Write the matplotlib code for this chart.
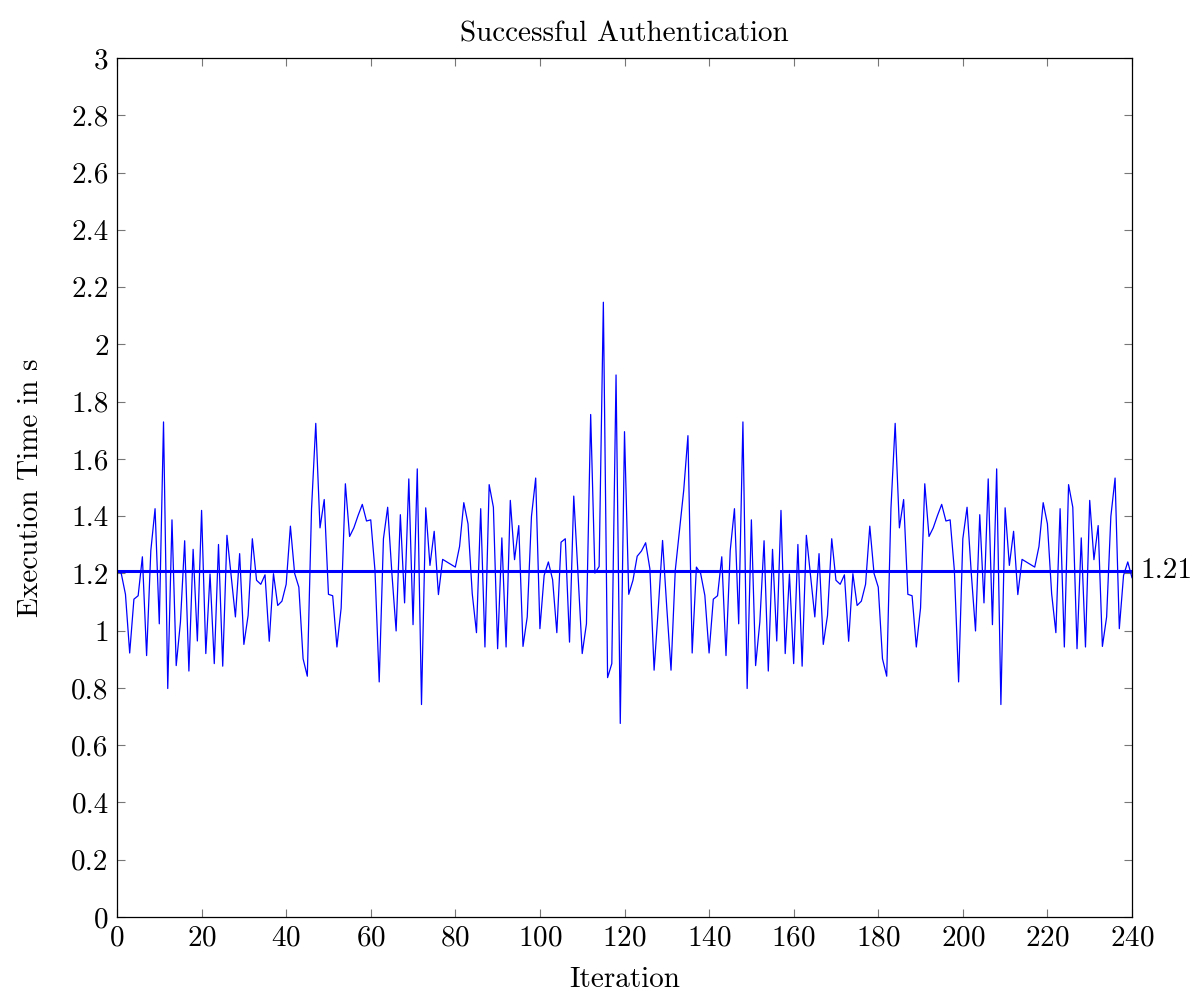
import matplotlib
matplotlib.use("Agg")
import matplotlib.pyplot as plt
import numpy as np

plt.rcParams["font.family"] = "serif"
plt.rcParams["font.serif"] = ["cmr10", "DejaVu Serif"]
plt.rcParams["mathtext.fontset"] = "cm"
plt.rcParams["axes.formatter.use_mathtext"] = True

# execution times, one per iteration (0..240)
first_run = [
    1.21, 1.20, 1.127, 0.922, 1.11, 1.122, 1.258, 0.913, 1.28, 1.426,
    1.024, 1.729, 0.798, 1.387, 0.878, 1.03, 1.314, 0.859, 1.284, 0.964,
    1.42, 0.92, 1.198, 0.885, 1.301, 0.876, 1.333, 1.19, 1.048, 1.269,
    0.952, 1.053, 1.321, 1.176, 1.162, 1.195, 0.963, 1.199, 1.088, 1.103,
    1.162, 1.365, 1.20, 1.152, 0.902, 0.841, 1.426, 1.724, 1.359, 1.458,
    1.127, 1.122, 0.943, 1.079, 1.513, 1.329, 1.359, 1.402, 1.441, 1.383,
    1.387, 1.21, 0.821, 1.321, 1.431, 1.20, 0.999, 1.405, 1.097, 1.53,
    1.021, 1.565, 0.742, 1.429, 1.228, 1.347, 1.126, 1.249, 1.24, 1.231,
    1.222, 1.294, 1.447, 1.373, 1.129, 0.993, 1.426, 0.943, 1.51, 1.431,
    0.937, 1.324, 0.943, 1.455, 1.248, 1.367, 0.945, 1.048, 1.399, 1.533,
    1.007, 1.193, 1.24, 1.178, 0.993, 1.309, 1.321, 0.96, 1.47, 1.20,
    0.92, 1.024, 1.755, 1.201, 1.224, 2.147, 0.836, 0.885, 1.893, 0.676,
    1.695, 1.127, 1.176, 1.26, 1.278, 1.307, 1.216, 0.862, 1.08, 1.315,
    1.08, 0.862, 1.21, 1.35, 1.49, 1.681, 0.922,
]
second_run = [
    1.222, 1.20, 1.123, 0.922, 1.11, 1.122, 1.258, 0.913, 1.28, 1.426,
    1.024, 1.729, 0.798, 1.387, 0.878, 1.03, 1.314, 0.859, 1.284, 0.964,
    1.42, 0.92, 1.198, 0.885, 1.301, 0.876, 1.333, 1.19, 1.048, 1.269,
    0.952, 1.053, 1.321, 1.176, 1.162, 1.195, 0.963, 1.199, 1.088, 1.103,
    1.162, 1.365, 1.20, 1.152, 0.902, 0.841, 1.426, 1.724, 1.359, 1.458,
    1.127, 1.122, 0.943, 1.079, 1.513, 1.329, 1.359, 1.402, 1.441, 1.383,
    1.387, 1.21, 0.821, 1.321, 1.431, 1.20, 0.999, 1.405, 1.097, 1.53,
    1.021, 1.565, 0.742, 1.429, 1.228, 1.347, 1.126, 1.249, 1.24, 1.231,
    1.222, 1.294, 1.447, 1.373, 1.129, 0.993, 1.426, 0.943, 1.51, 1.431,
    0.937, 1.324, 0.943, 1.455, 1.248, 1.367, 0.945, 1.048, 1.399, 1.533,
    1.007, 1.193, 1.24, 1.185,
]
times = first_run + second_run
iterations = list(range(len(times)))
mean_time = 1.21

fig = plt.figure(figsize=(12.04, 9.96), dpi=100)
ax = fig.add_axes([117 / 1204, 1 - 917 / 996, (1132 - 117) / 1204, (917 - 58) / 996])

ax.plot(iterations, times, color="blue", linewidth=0.9)
ax.axhline(mean_time, color="blue", linewidth=2.2)
ax.text(1.008, mean_time, f"{mean_time:.2f}", transform=ax.get_yaxis_transform(),
        ha="left", va="center", fontsize=21)

ax.set_xlim(0, 240)
ax.set_ylim(0, 3)
ax.set_xticks(np.arange(0, 241, 20))
ax.set_yticks(np.arange(0, 3.01, 0.2))
ax.set_yticklabels(["0"] + [f"{v:g}" for v in np.arange(0.2, 3.01, 0.2).round(1)])
ax.tick_params(direction="in", top=True, right=True, length=6, width=0.8,
               color="#777777", labelsize=21, pad=6)
for sp in ax.spines.values():
    sp.set_linewidth(0.9)

ax.set_title("Successful Authentication", fontsize=21, pad=12)
ax.set_xlabel("Iteration", fontsize=21, labelpad=11)
ax.set_ylabel("Execution Time in s", fontsize=21, labelpad=20)

fig.savefig("out.png", dpi=100)
